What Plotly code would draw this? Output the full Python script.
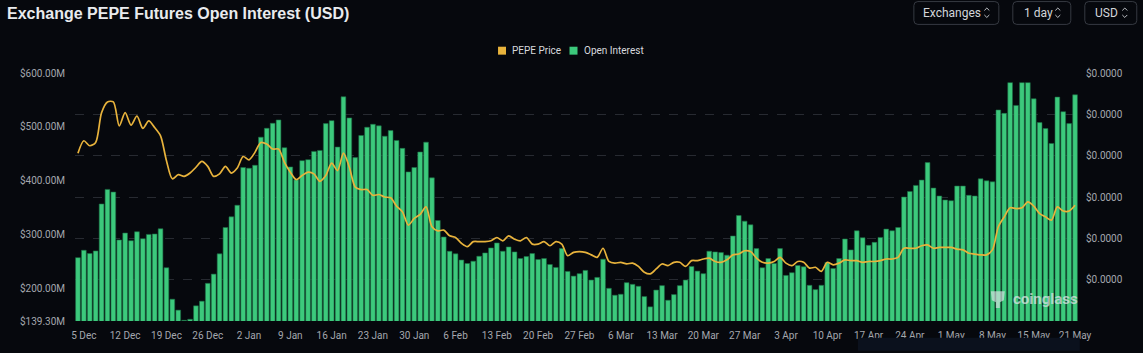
import plotly.graph_objects as go
import pandas as pd

# ---------------- data ----------------
dates = [d.strftime("%Y-%m-%d") for d in pd.date_range("2024-12-04", periods=170, freq="D")]

open_interest_m = [
    257, 270.7, 264.6, 269.5, 356.7, 383.8, 378.8, 289.8, 302.7, 288.5,
    305.1, 292.2, 300.2, 300.9, 310.6, 238.2, 179.8, 159.5, 140.6, 142.5,
    167.5, 176.1, 209.3, 226.4, 264, 313, 332.8, 354.3, 424.4, 423.1,
    428.6, 480.8, 497.3, 506.6, 512.8, 461.2, 425.5, 401.5, 437.2, 439,
    454.4, 456.2, 506, 511.5, 462.4, 555.8, 516.5, 442.8, 483.9, 499.2,
    504.7, 501.8, 482.6, 493.1, 474.7, 460, 416.3, 424.4, 453.3, 471.5,
    405.2, 326, 295.4, 268.8, 264, 252.5,
    246.1, 250.4, 259.6, 265.8, 275.1, 284.3, 268.9, 276.9, 267.7, 255.4,
    259, 264.6, 253.5, 255.4, 244.3, 238.8, 273.8, 231.4, 222.7, 227.2,
    233.3, 215.4, 220.3, 254.1, 200, 187.2, 189, 210.5, 207.4, 203.8,
    184.7, 165.6, 196.8, 205, 177.9, 188.4, 205, 215.4, 240.6, 232,
    227.2, 268.9, 267.7, 266.4, 261.6, 297.2, 335.2, 324.8, 318, 273.8,
    238.2, 255.4, 246.1, 273.8, 224, 229,
    242.5, 240, 205.6, 197.6, 205.6, 248, 236.9, 255.4, 291.7, 271.4,
    306.9, 294, 279.9, 285.4, 294.6, 310, 306.9, 313, 369.6, 380,
    391.2, 401, 433.6, 386.2, 371.5, 364.1, 362.8, 390, 390, 372.8,
    371.5, 403.4, 399.7, 397.8, 531.3, 525, 582.1, 539.8, 582.1, 582.1,
    552.1, 507.9, 496.8, 469.1, 555.2, 528.1, 506, 559.5,
]

# PEPE price in millionths of a dollar
pepe_price_micro = [
    20.3, 21.8, 21.2, 21.6, 25.2, 26.5, 26.5, 23.6, 25.2, 23.7,
    24.8, 23.3, 24.2, 23.4, 22.4, 19.4, 17.2, 17.7, 17.5, 17.9,
    18.6, 19.3, 18.7, 17.5, 17.8, 18.7, 17.9, 18.5, 19.9, 19.5,
    20.4, 21.6, 21.4, 20.8, 20.8, 19.2, 18.0, 17.1, 17.6, 18.0,
    17.8, 16.9, 17.6, 19.1, 18.2, 20.3, 18.6, 16.2, 15.9, 15.9,
    15.2, 15.3, 15.0, 14.9, 13.9, 13.2, 11.6, 12.4, 12.9, 13.8,
    11.4, 10.9, 11.0, 10.3, 10.1, 9.4,
    9.0, 9.6, 9.6, 9.6, 9.7, 10.1, 9.7, 10.3, 9.9, 9.7,
    10.1, 9.3, 9.3, 9.6, 9.1, 9.6, 9.3, 7.9, 8.3, 8.4,
    8.3, 8.0, 7.7, 8.8, 7.2, 7.0, 7.1, 6.9, 7.0, 6.6,
    5.9, 5.7, 6.3, 6.9, 6.7, 7.1, 7.1, 6.6, 7.3, 7.3,
    7.5, 7.6, 7.2, 7.1, 7.4, 8.0, 8.1, 8.5, 8.4, 7.6,
    7.1, 7.0, 7.2, 7.7, 7.0, 6.7,
    7.2, 7.1, 6.4, 6.5, 6.0, 7.1, 6.8, 7.0, 7.4, 7.3,
    7.3, 7.1, 7.2, 7.2, 7.3, 7.5, 7.5, 7.7, 8.8, 8.8,
    8.8, 9.1, 9.2, 8.8, 8.9, 8.9, 8.9, 8.7, 8.6, 8.2,
    8.1, 8.0, 8.0, 8.6, 11.4, 12.6, 13.7, 13.6, 13.7, 14.4,
    13.9, 13.0, 12.6, 12.2, 13.8, 13.3, 13.3, 14.0,
]
pepe_price = [v * 1e-6 for v in pepe_price_micro]

tick_dates = [
    "2024-12-05", "2024-12-12", "2024-12-19", "2024-12-26", "2025-01-02",
    "2025-01-09", "2025-01-16", "2025-01-23", "2025-01-30", "2025-02-06",
    "2025-02-13", "2025-02-20", "2025-02-27", "2025-03-06", "2025-03-13",
    "2025-03-20", "2025-03-27", "2025-04-03", "2025-04-10", "2025-04-17",
    "2025-04-24", "2025-05-01", "2025-05-08", "2025-05-15", "2025-05-22",
]
tick_labels = [
    "5 Dec", "12 Dec", "19 Dec", "26 Dec", "2 Jan", "9 Jan", "16 Jan",
    "23 Jan", "30 Jan", "6 Feb", "13 Feb", "20 Feb", "27 Feb", "6 Mar",
    "13 Mar", "20 Mar", "27 Mar", "3 Apr", "10 Apr", "17 Apr", "24 Apr",
    "1 May", "8 May", "15 May", "21 May",
]

left_tickvals = [139.3, 200, 300, 400, 500, 600]
left_ticktext = ["$139.30M", "$200.00M", "$300.00M", "$400.00M", "$500.00M", "$600.00M"]
right_tickvals = [5e-6, 10e-6, 15e-6, 20e-6, 25e-6, 30e-6]
right_ticktext = ["$0.0000"] * 6

# ---------------- layout helpers ----------------
W, H = 1143, 353
L, R, T, B = 74.8, 64.8, 73, 30
PW = W - L - R
PH = H - T - B


def px(x):
    return (x - L) / PW


def py(y):
    return (H - B - y) / PH


BG = "#06080d"
GREEN = "#3cc97c"
GOLD = "#e8b33c"
AXIS_TXT = "#a4a7ad"

fig = go.Figure()
fig.add_trace(go.Bar(
    x=dates, y=open_interest_m, name="Open Interest",
    marker=dict(color=GREEN, line=dict(color="#1d6b45", width=0.6)),
    yaxis="y", hoverinfo="skip",
))
fig.add_trace(go.Scatter(
    x=dates, y=pepe_price, name="PEPE Price", mode="lines",
    line=dict(color=GOLD, width=1.7, shape="spline", smoothing=0.8),
    yaxis="y2", hoverinfo="skip",
))

shapes = []
annotations = []

# title
annotations.append(dict(
    xref="paper", yref="paper", x=px(5), y=py(13), xanchor="left", yanchor="middle",
    text="<b>Exchange PEPE Futures Open Interest (USD)</b>", showarrow=False,
    font=dict(family="Liberation Sans", size=16, color="#e9ebee"),
))


def rounded_rect(x0, y0, x1, y1, r):
    X0, X1 = px(x0), px(x1)
    Y0, Y1 = py(y0), py(y1)
    rx = r / PW
    ry = r / PH
    return (f"M {X0+rx} {Y0} L {X1-rx} {Y0} Q {X1} {Y0} {X1} {Y0-ry} "
            f"L {X1} {Y1+ry} Q {X1} {Y1} {X1-rx} {Y1} L {X0+rx} {Y1} "
            f"Q {X0} {Y1} {X0} {Y1+ry} L {X0} {Y0-ry} Q {X0} {Y0} {X0+rx} {Y0} Z")


buttons = [("Exchanges", 914, 999, 921, 987), ("1 day", 1013, 1071, 1022, 1058),
           ("USD", 1085, 1137, 1093, 1125)]
for label, bx0, bx1, tx, ix in buttons:
    shapes.append(dict(type="path", xref="paper", yref="paper",
                       path=rounded_rect(bx0, 1, bx1, 24, 4),
                       line=dict(color="#363a42", width=1), fillcolor=BG, layer="above"))
    annotations.append(dict(xref="paper", yref="paper", x=px(tx), y=py(12.5),
                            xanchor="left", yanchor="middle", text=label, showarrow=False,
                            font=dict(family="Roboto", size=12, color="#d3d6da")))
    shapes.append(dict(type="path", xref="paper", yref="paper",
                       path=f"M {px(ix-2.5)} {py(10)} L {px(ix)} {py(7.5)} L {px(ix+2.5)} {py(10)}",
                       line=dict(color="#bfc2c7", width=1)))
    shapes.append(dict(type="path", xref="paper", yref="paper",
                       path=f"M {px(ix-2.5)} {py(14.5)} L {px(ix)} {py(17)} L {px(ix+2.5)} {py(14.5)}",
                       line=dict(color="#bfc2c7", width=1)))

# legend
for (sx, color, txt, tx) in [(498, GOLD, "PEPE Price", 510), (569.5, GREEN, "Open Interest", 582)]:
    shapes.append(dict(type="rect", xref="paper", yref="paper",
                       x0=px(sx), x1=px(sx + 8), y0=py(54.5), y1=py(46.5),
                       line=dict(width=0), fillcolor=color))
    annotations.append(dict(xref="paper", yref="paper", x=px(tx), y=py(50.5),
                            xanchor="left", yanchor="middle", text=txt, showarrow=False,
                            font=dict(family="Roboto", size=10, color="#d7d9dd")))

# watermark
annotations.append(dict(xref="paper", yref="paper", x=px(1011), y=py(301),
                        xanchor="left", yanchor="middle", text="<b>coinglass</b>", showarrow=False,
                        font=dict(family="Roboto", size=15, color="rgba(225,228,232,0.72)")))
shapes.append(dict(type="path", xref="paper", yref="paper",
                   path=(f"M {px(991)} {py(293)} L {px(1005)} {py(293)} L {px(1004)} {py(302)} "
                         f"L {px(1000)} {py(304)} L {px(1000)} {py(310)} L {px(996)} {py(310)} "
                         f"L {px(996)} {py(304)} L {px(992)} {py(302)} Z"),
                   line=dict(width=0), fillcolor="rgba(225,228,232,0.65)", layer="above"))

# bottom-right partial panel
shapes.append(dict(type="rect", xref="paper", yref="paper",
                   x0=px(858), x1=px(1080), y0=py(353), y1=py(340),
                   line=dict(width=0), fillcolor="#0b111d"))

fig.update_layout(
    width=W, height=H,
    margin=dict(l=L, r=R, t=T, b=B, pad=0),
    paper_bgcolor=BG, plot_bgcolor=BG,
    showlegend=False,
    bargap=0.2,
    font=dict(family="Roboto", size=10, color=AXIS_TXT),
    xaxis=dict(
        type="category", tickvals=tick_dates, ticktext=tick_labels,
        showgrid=False, zeroline=False, showline=False,
        ticks="outside", ticklen=5, tickcolor=BG,
        tickfont=dict(family="Roboto", size=10, color=AXIS_TXT),
        range=[-0.5, len(dates) - 0.5],
    ),
    yaxis=dict(
        range=[139.3, 600], tickvals=left_tickvals, ticktext=left_ticktext,
        showgrid=False, zeroline=False, showline=False,
        ticks="outside", ticklen=7, tickcolor=BG,
        tickfont=dict(family="Roboto", size=10, color=AXIS_TXT),
    ),
    yaxis2=dict(
        overlaying="y", side="right", range=[0, 30e-6],
        tickvals=right_tickvals, ticktext=right_ticktext,
        showgrid=True, gridcolor="#272a31", griddash="dash", gridwidth=1,
        zeroline=False, showline=False,
        ticks="outside", ticklen=5, tickcolor=BG,
        tickfont=dict(family="Roboto", size=10, color=AXIS_TXT),
    ),
    shapes=shapes,
    annotations=annotations,
)

fig.write_html("out.html")
